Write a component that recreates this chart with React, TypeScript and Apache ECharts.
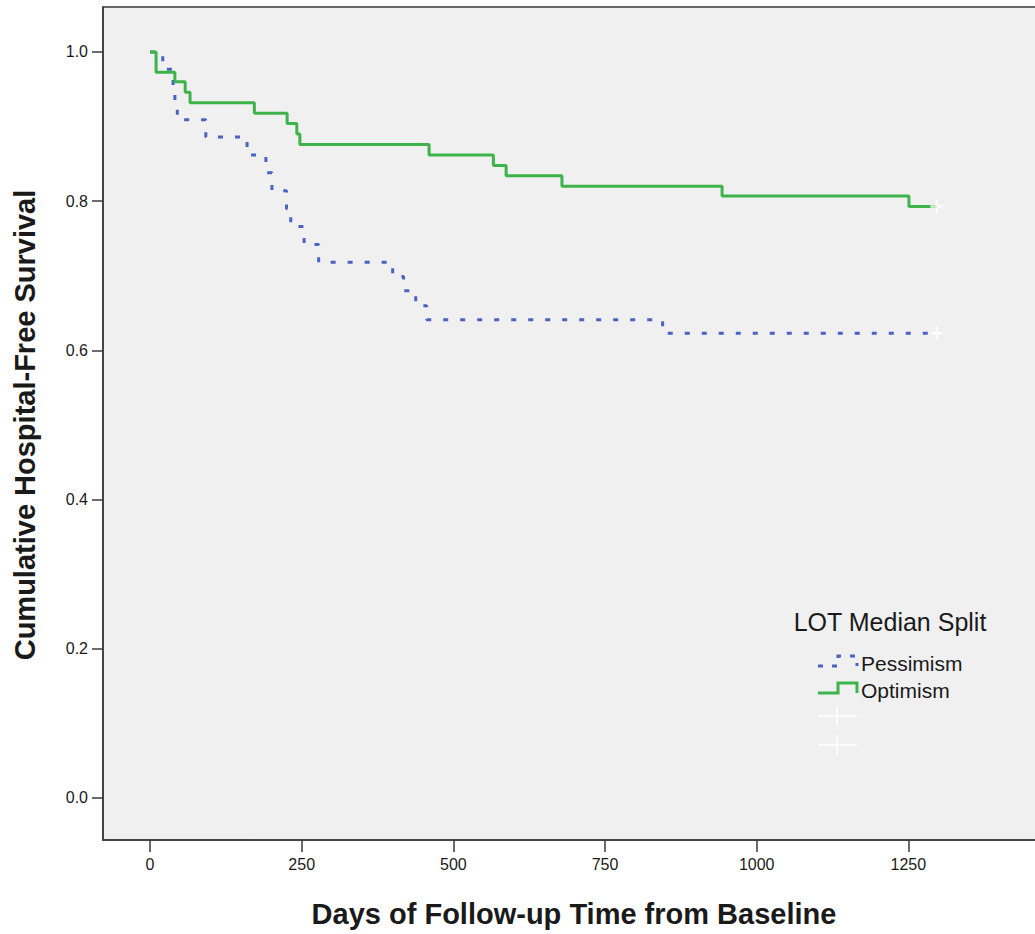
import React, { useEffect, useRef } from "react";
import * as echarts from "echarts";

// ---- data ----
const optimismDays = [0, 10, 41, 58, 66, 172, 226, 242, 247, 460, 566, 587, 679, 943, 1251, 1297];
const optimismSurv = [1.0, 0.973, 0.96, 0.946, 0.932, 0.918, 0.904, 0.89, 0.876, 0.862, 0.848, 0.834, 0.82, 0.807, 0.793, 0.793];

const pessimismDays = [0, 21, 38, 41, 45, 92, 160, 191, 201, 225, 232, 254, 278, 400, 418, 438, 456, 845, 1297];
const pessimismSurv = [1.0, 0.977, 0.955, 0.932, 0.909, 0.886, 0.862, 0.838, 0.814, 0.79, 0.766, 0.742, 0.718, 0.699, 0.68, 0.66, 0.641, 0.623, 0.623];

const censorDays = [1297, 1297];
const censorSurv = [0.793, 0.623];

const xTicks = [0, 250, 500, 750, 1000, 1250];
const yTicks = [0, 0.2, 0.4, 0.6, 0.8, 1.0];

const seriesNames = ["Pessimism", "Optimism"];
const legendTitle = "LOT Median Split";
const xTitle = "Days of Follow-up Time from Baseline";
const yTitle = "Cumulative Hospital-Free Survival";

const FONT = "'Liberation Sans', Arial, Helvetica, sans-serif";
const GREEN = "#3cb44a";
const BLUE = "#4a62c2";
const TEXT = "#1a1a1a";

const plusPath = "path://M5,0h2.4v5h5v2.4h-5v5h-2.4v-5h-5v-2.4h5z";

export default function App() {
  const ref = useRef<HTMLDivElement>(null);

  useEffect(() => {
    if (!ref.current) return;
    const chart = echarts.init(ref.current, undefined, { renderer: "svg" });

    const optData = optimismDays.map((d, i) => [d, optimismSurv[i]]);
    const pesData = pessimismDays.map((d, i) => [d, pessimismSurv[i]]);
    const censData = censorDays.map((d, i) => [d, censorSurv[i]]);

    const option: any = {
      animation: false,
      backgroundColor: "#ffffff",
      grid: {
        left: 103,
        top: 7,
        width: 957,
        height: 833,
        show: true,
        backgroundColor: "#f0f0f0",
        borderColor: "#3a3a3a",
        borderWidth: 1.5,
      },
      xAxis: {
        type: "value",
        min: -77.5,
        max: 1500,
        splitLine: { show: false },
        axisLine: { show: true, onZero: false, lineStyle: { color: "#3a3a3a", width: 1.5 } },
        axisTick: {
          show: true,
          length: 12,
          customValues: xTicks,
          lineStyle: { color: "#3a3a3a", width: 1.5 },
        },
        axisLabel: {
          customValues: xTicks,
          margin: 16,
          fontSize: 16,
          color: TEXT,
          fontFamily: FONT,
          formatter: (v: number) => String(v),
        },
      },
      yAxis: {
        type: "value",
        min: -0.0563,
        max: 1.0603,
        splitLine: { show: false },
        axisLine: { show: true, onZero: false, lineStyle: { color: "#3a3a3a", width: 1.5 } },
        axisTick: {
          show: true,
          length: 11,
          customValues: yTicks,
          lineStyle: { color: "#3a3a3a", width: 1.5 },
        },
        axisLabel: {
          customValues: yTicks,
          margin: 15,
          fontSize: 16,
          color: TEXT,
          fontFamily: FONT,
          formatter: (v: number) => v.toFixed(1),
        },
      },
      series: [
        {
          name: seriesNames[0],
          type: "line",
          step: "end",
          data: pesData,
          symbol: "none",
          lineStyle: { color: BLUE, width: 3, type: [5, 12], cap: "butt" },
          z: 3,
        },
        {
          name: seriesNames[1],
          type: "line",
          step: "end",
          data: optData,
          symbol: "none",
          lineStyle: { color: GREEN, width: 3 },
          z: 4,
        },
        {
          name: "Censored",
          type: "scatter",
          data: censData,
          symbol: plusPath,
          symbolSize: 13,
          itemStyle: { color: "#ffffff" },
          z: 5,
        },
      ],
      graphic: [
        {
          type: "text",
          x: 574,
          y: 914,
          style: {
            text: xTitle,
            fontSize: 29,
            fontWeight: "bold",
            fontFamily: FONT,
            fill: TEXT,
            textAlign: "center",
            textVerticalAlign: "middle",
          },
        },
        {
          type: "text",
          x: 25,
          y: 425,
          rotation: Math.PI / 2,
          style: {
            text: yTitle,
            fontSize: 29,
            fontWeight: "bold",
            fontFamily: FONT,
            fill: TEXT,
            textAlign: "center",
            textVerticalAlign: "middle",
          },
        },
        {
          type: "text",
          x: 890,
          y: 622,
          style: {
            text: legendTitle,
            fontSize: 25,
            fontFamily: FONT,
            fill: TEXT,
            textAlign: "center",
            textVerticalAlign: "middle",
          },
        },
        {
          type: "polyline",
          shape: { points: [[818, 666], [838, 666], [838, 656], [857, 656], [857, 666]] },
          style: { stroke: BLUE, lineWidth: 3, fill: null, lineDash: [5, 9] },
        },
        {
          type: "text",
          x: 861,
          y: 663,
          style: {
            text: seriesNames[0],
            fontSize: 21,
            fontFamily: FONT,
            fill: TEXT,
            textAlign: "left",
            textVerticalAlign: "middle",
          },
        },
        {
          type: "polyline",
          shape: { points: [[818, 693], [838, 693], [838, 683], [857, 683], [857, 693]] },
          style: { stroke: GREEN, lineWidth: 3, fill: null },
        },
        {
          type: "text",
          x: 861,
          y: 690,
          style: {
            text: seriesNames[1],
            fontSize: 21,
            fontFamily: FONT,
            fill: TEXT,
            textAlign: "left",
            textVerticalAlign: "middle",
          },
        },
        { type: "line", shape: { x1: 818, y1: 716, x2: 857, y2: 716 }, style: { stroke: "#ffffff", lineWidth: 1.5 } },
        { type: "line", shape: { x1: 837, y1: 706, x2: 837, y2: 726 }, style: { stroke: "#ffffff", lineWidth: 1.5 } },
        { type: "line", shape: { x1: 818, y1: 745, x2: 857, y2: 745 }, style: { stroke: "#ffffff", lineWidth: 1.5 } },
        { type: "line", shape: { x1: 837, y1: 735, x2: 837, y2: 755 }, style: { stroke: "#ffffff", lineWidth: 1.5 } },
      ],
    };

    chart.setOption(option);
    return () => chart.dispose();
  }, []);

  return (
    <div style={{ position: "absolute", left: 0, top: 0, width: 1035, height: 934, overflow: "hidden", background: "#ffffff" }}>
      <div ref={ref} style={{ width: 1100, height: 934 }} />
    </div>
  );
}
